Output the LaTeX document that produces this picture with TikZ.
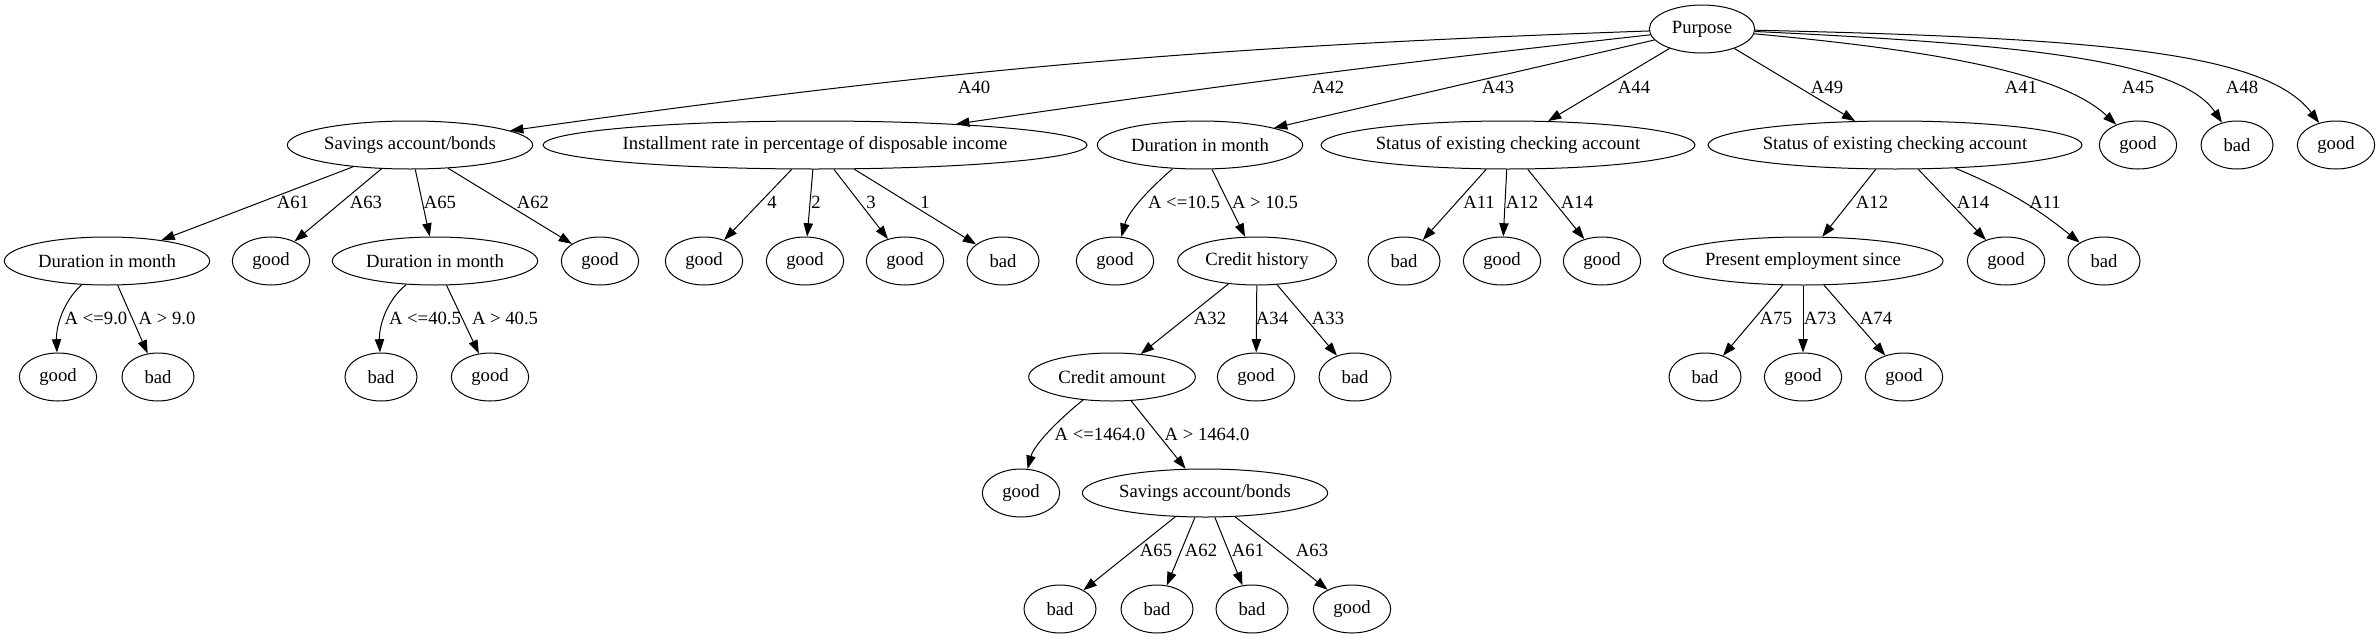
\documentclass[tikz,border=0pt]{standalone}
\usepackage{fontspec}
\setmainfont{Liberation Serif}
\usetikzlibrary{shapes.geometric,arrows.meta}
\begin{document}
\begin{tikzpicture}[x=0.75pt,y=-0.75pt,
  font=\fontsize{14}{16}\selectfont,
  nd/.style={draw,ellipse,inner sep=0pt,minimum height=36pt,minimum width=#1,line width=0.75pt},
  gd/.style={nd=58pt},
  bd/.style={nd=54pt},
  ed/.style={draw,line width=0.75pt,-{Triangle[length=10pt,width=7pt]}},
  lb/.style={inner sep=0pt}]
\useasboundingbox (0,0) rectangle (2379,639);
% level 0
\node[nd=79pt] (P) at (1702,29) {Purpose};
% level 1
\node[nd=184pt] (S1) at (410,145) {Savings account/bonds};
\node[nd=388pt] (I) at (815,145) {Installment rate in percentage of disposable income};
\node[nd=154pt] (D1) at (1200,145) {Duration in month};
\node[nd=272pt] (C1) at (1508,145) {Status of existing checking account};
\node[nd=272pt] (C2) at (1895,145) {Status of existing checking account};
\node[gd] (g41) at (2138,145) {good};
\node[bd] (b45) at (2237,145) {bad};
\node[gd] (g48) at (2336,145) {good};
% level 2
\node[nd=154pt] (D2) at (107,261) {Duration in month};
\node[gd] (g63) at (271,261) {good};
\node[nd=154pt] (D3) at (435,261) {Duration in month};
\node[gd] (g62) at (600,261) {good};
\node[gd] (g4) at (704,261) {good};
\node[gd] (g2) at (805,261) {good};
\node[gd] (g3) at (905,261) {good};
\node[bd] (b1) at (1003,261) {bad};
\node[gd] (g105) at (1115,261) {good};
\node[nd=119pt] (CH) at (1257,261) {Credit history};
\node[bd] (b11) at (1404,261) {bad};
\node[gd] (g12) at (1502,261) {good};
\node[gd] (g14) at (1602,261) {good};
\node[nd=210pt] (PE) at (1803,261) {Present employment since};
\node[gd] (g14b) at (2006,261) {good};
\node[bd] (b11b) at (2104,261) {bad};
% level 3
\node[gd] (g9) at (58,377) {good};
\node[bd] (b9) at (158,377) {bad};
\node[bd] (b40) at (381,377) {bad};
\node[gd] (g40) at (490,377) {good};
\node[nd=125pt] (CA) at (1112,377) {Credit amount};
\node[gd] (g34) at (1256,377) {good};
\node[bd] (b33) at (1355,377) {bad};
\node[bd] (b75) at (1705,377) {bad};
\node[gd] (g73) at (1803,377) {good};
\node[gd] (g74) at (1904,377) {good};
% level 4
\node[gd] (g1464) at (1021,493) {good};
\node[nd=184pt] (S2) at (1205,493) {Savings account/bonds};
% level 5
\node[bd] (b65) at (1060,609) {bad};
\node[bd] (b62) at (1157,609) {bad};
\node[bd] (b61) at (1252,609) {bad};
\node[gd] (g63b) at (1352,609) {good};

% edges from Purpose
\draw[ed] (P) to[bend right=3] (S1);
\draw[ed] (P) to[bend right=1] (I);
\draw[ed] (P) -- (D1);
\draw[ed] (P) -- (C1);
\draw[ed] (P) -- (C2);
\draw[ed] (P) .. controls (1930,50) and (2060,72) .. (g41);
\draw[ed] (P) .. controls (2020,44) and (2180,60) .. (b45);
\draw[ed] (P) .. controls (2100,38) and (2265,52) .. (g48);
\node[lb] (l40) at (974,87) {A40};
\node[lb] (l42) at (1328,87) {A42};
\node[lb] (l43) at (1498,87) {A43};
\node[lb] (l44) at (1634,87) {A44};
\node[lb] (l49) at (1827,87) {A49};
\node[lb] (l41) at (2021,87) {A41};
\node[lb] (l45) at (2138,87) {A45};
\node[lb] (l48) at (2242,87) {A48};

% Savings 1
\draw[ed] (S1) -- (D2);
\draw[ed] (S1) -- (g63);
\draw[ed] (S1) -- (D3);
\draw[ed] (S1) -- (g62);
\node[lb] (la61) at (293,202) {A61};
\node[lb] (la63) at (366,202) {A63};
\node[lb] (la65) at (440,202) {A65};
\node[lb] (la62) at (533,202) {A62};

% Installment
\draw[ed] (I) -- (g4);
\draw[ed] (I) -- (g2);
\draw[ed] (I) -- (g3);
\draw[ed] (I) -- (b1);
\node[lb] (li4) at (772,202) {4};
\node[lb] (li2) at (816,202) {2};
\node[lb] (li3) at (871,202) {3};
\node[lb] (li1) at (925,202) {1};

% Duration 1
\draw[ed] (D1) .. controls (1148,190) and (1128,212) .. (g105);
\draw[ed] (D1) -- (CH);
\node[lb] (ld1) at (1184,202) {A <=10.5};
\node[lb] (ld2) at (1265,202) {A > 10.5};

% Status 1
\draw[ed] (C1) -- (b11);
\draw[ed] (C1) -- (g12);
\draw[ed] (C1) -- (g14);
\node[lb] (lc11) at (1479,202) {A11};
\node[lb] (lc12) at (1522,202) {A12};
\node[lb] (lc14) at (1577,202) {A14};

% Status 2
\draw[ed] (C2) -- (PE);
\draw[ed] (C2) -- (g14b);
\draw[ed] (C2) to[bend left=8] (b11b);
\node[lb] (lk12) at (1872,202) {A12};
\node[lb] (lk14) at (1973,202) {A14};
\node[lb] (lk11) at (2045,202) {A11};

% Duration 2, 3
\draw[ed] (D2) .. controls (62,303) and (56,328) .. (g9);
\draw[ed] (D2) -- (b9);
\node[lb] (lq1) at (96,318) {A <=9.0};
\node[lb] (lq2) at (167,318) {A > 9.0};
\draw[ed] (D3) .. controls (385,302) and (379,328) .. (b40);
\draw[ed] (D3) -- (g40);
\node[lb] (lr1) at (425,318) {A <=40.5};
\node[lb] (lr2) at (505,318) {A > 40.5};

% Credit history
\draw[ed] (CH) -- (CA);
\draw[ed] (CH) -- (g34);
\draw[ed] (CH) -- (b33);
\node[lb] (lh32) at (1210,318) {A32};
\node[lb] (lh34) at (1272,318) {A34};
\node[lb] (lh33) at (1328,318) {A33};

% Present employment
\draw[ed] (PE) -- (b75);
\draw[ed] (PE) -- (g73);
\draw[ed] (PE) -- (g74);
\node[lb] (le75) at (1776,318) {A75};
\node[lb] (le73) at (1820,318) {A73};
\node[lb] (le74) at (1876,318) {A74};

% Credit amount
\draw[ed] (CA) .. controls (1058,420) and (1034,445) .. (g1464);
\draw[ed] (CA) -- (S2);
\node[lb] (lm1) at (1100,434) {A <=1464.0};
\node[lb] (lm2) at (1207,434) {A > 1464.0};

% Savings 2
\draw[ed] (S2) -- (b65);
\draw[ed] (S2) -- (b62);
\draw[ed] (S2) -- (b61);
\draw[ed] (S2) -- (g63b);
\node[lb] (ls65) at (1156,550) {A65};
\node[lb] (ls62) at (1201,550) {A62};
\node[lb] (ls61) at (1248,550) {A61};
\node[lb] (ls63) at (1312,550) {A63};
\end{tikzpicture}
\end{document}
